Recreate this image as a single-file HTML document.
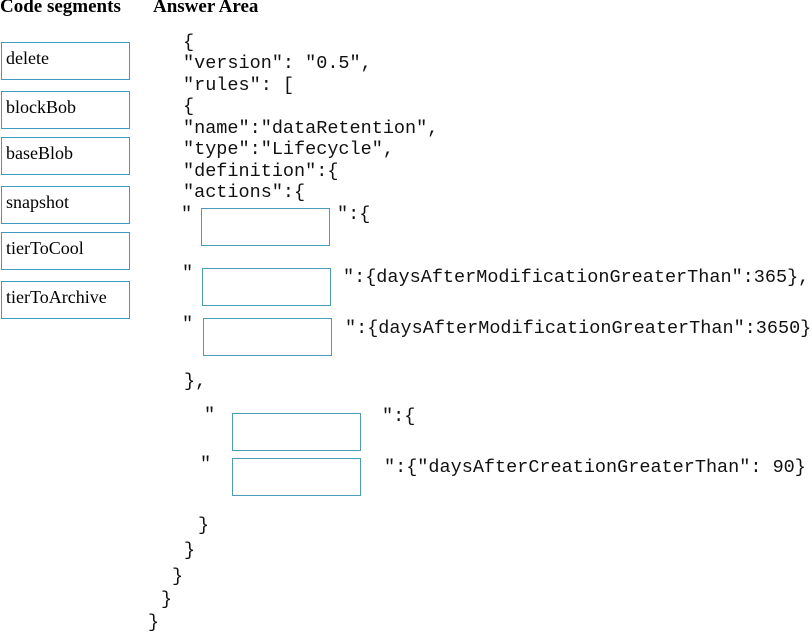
<!DOCTYPE html>
<html><head><style>
body{margin:0;width:812px;height:632px;background:#fff;position:relative;overflow:hidden}
.h{position:absolute;font-family:"Liberation Serif",serif;font-weight:bold;font-size:19px;top:-4px;color:#000}
.s{position:absolute;left:1px;width:127px;height:36px;border:1.5px solid #3c9cc2;font-family:"Liberation Serif",serif;font-size:18px;color:#000;box-sizing:content-box}
.s span{position:absolute;left:4px;top:5px}
.b{position:absolute;width:127px;height:36px;border:1.5px solid #4a9db8}
.c{position:absolute;font-family:"Liberation Mono",monospace;font-size:18.5px;line-height:20px;white-space:pre;color:#111}
</style></head><body>
<div class="h" style="left:0">Code segments</div>
<div class="h" style="left:153px">Answer Area</div>
<div class="s" style="top:42px"><span>delete</span></div>
<div class="s" style="top:91px"><span>blockBob</span></div>
<div class="s" style="top:137px"><span>baseBlob</span></div>
<div class="s" style="top:186px"><span>snapshot</span></div>
<div class="s" style="top:232px"><span>tierToCool</span></div>
<div class="s" style="top:281px"><span>tierToArchive</span></div>

<div class="c" style="left:183px;top:33px">{</div>
<div class="c" style="left:183px;top:54px">"version": "0.5",</div>
<div class="c" style="left:183px;top:76px">"rules": [</div>
<div class="c" style="left:183px;top:97px">{</div>
<div class="c" style="left:183px;top:119px">"name":"dataRetention",</div>
<div class="c" style="left:183px;top:140px">"type":"Lifecycle",</div>
<div class="c" style="left:183px;top:162px">"definition":{</div>
<div class="c" style="left:183px;top:183px">"actions":{</div>

<div class="c" style="left:181px;top:205px">"</div>
<div class="b" style="left:201px;top:208px"></div>
<div class="c" style="left:337px;top:205px">":{</div>

<div class="c" style="left:182px;top:264px">"</div>
<div class="b" style="left:202px;top:268px"></div>
<div class="c" style="left:343px;top:268px">":{daysAfterModificationGreaterThan":365},</div>

<div class="c" style="left:182px;top:315px">"</div>
<div class="b" style="left:203px;top:318px"></div>
<div class="c" style="left:345px;top:319px">":{daysAfterModificationGreaterThan":3650}</div>

<div class="c" style="left:184px;top:372px">},</div>

<div class="c" style="left:204px;top:406px">"</div>
<div class="b" style="left:232px;top:413px"></div>
<div class="c" style="left:382px;top:407px">":{</div>

<div class="c" style="left:200px;top:455px">"</div>
<div class="b" style="left:232px;top:458px"></div>
<div class="c" style="left:384px;top:458px">":{"daysAfterCreationGreaterThan": 90}</div>

<div class="c" style="left:198px;top:516px">}</div>
<div class="c" style="left:184px;top:541px">}</div>
<div class="c" style="left:172px;top:567px">}</div>
<div class="c" style="left:161px;top:590px">}</div>
<div class="c" style="left:148px;top:613px">}</div>
</body></html>
